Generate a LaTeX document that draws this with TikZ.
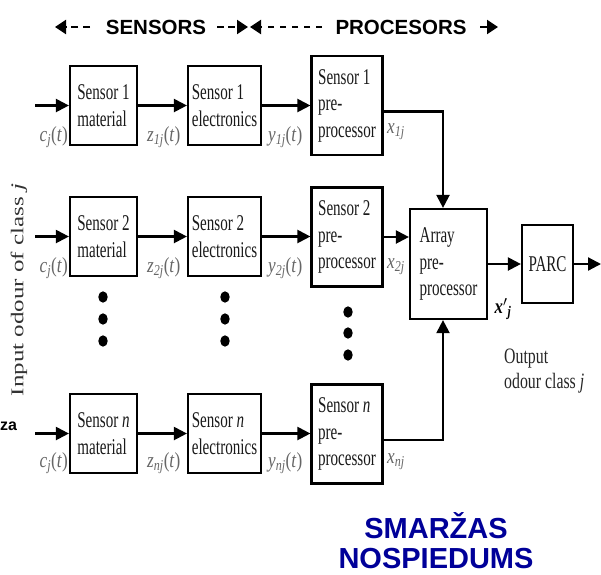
\documentclass[tikz,border=0pt]{standalone}
\usepackage{fontspec}
\setmainfont{Liberation Serif}
\newfontfamily\hdrfont{Liberation Sans}
\newfontfamily\boxfont[FakeStretch=0.67]{Liberation Serif}
\newfontfamily\lblfont[FakeStretch=0.8]{Liberation Serif}
\newfontfamily\outfont[FakeStretch=0.72]{Liberation Serif}
\newfontfamily\sidefont[FakeStretch=1.39]{Liberation Serif}
\usetikzlibrary{arrows.meta}

% signal label such as c_j(t)
\newcommand\sgl[2]{\textit{#1}\textsubscript{\textit{#2}}(\textit{t})}
\newcommand\vecx[1]{\textit{x}\textsubscript{\textit{#1}}}

\begin{document}
\begin{tikzpicture}[x=1pt,y=-1pt,
  blk/.style={draw, line width=2.2pt, align=left, inner sep=0pt,
    font=\boxfont\fontsize{22.5}{26.5}\selectfont, text=black!90},
  matbox/.style={blk, minimum width=67pt, minimum height=79pt},
  elebox/.style={blk, minimum width=73pt, minimum height=79pt},
  prebox/.style={blk, minimum width=71pt, minimum height=99pt},
  flow/.style={line width=2.2pt, -{Triangle[length=13pt,width=13pt]}},
  lbl/.style={font=\lblfont\fontsize{21.5}{22}\selectfont, text=black!60, inner sep=0pt},
  hdrtxt/.style={font=\hdrfont\bfseries\fontsize{20.5}{24}\selectfont, inner sep=0pt},
  hdash/.style={line width=2pt, dash pattern=on 7pt off 5pt, -{Triangle[length=11pt,width=14pt]}},
  dot/.style={fill=black, draw=none},
  titletxt/.style={font=\hdrfont\bfseries\fontsize{29}{30}\selectfont, text=blue!60!black, align=center, inner sep=0pt}
]
\useasboundingbox (0,0) rectangle (601,574);

% header with section ranges
\node[hdrtxt] (sens) at (156,27) {SENSORS};
\node[hdrtxt] (proc) at (401,27) {PROCESORS};
\coordinate (ha1) at (90,27);  \coordinate (hb1) at (55,27);
\coordinate (ha2) at (217,27); \coordinate (hb2) at (248,27);
\coordinate (ha3) at (322,27); \coordinate (hb3) at (250,27);
\coordinate (ha4) at (480,27); \coordinate (hb4) at (498,27);
\draw[hdash] (ha1) -- (hb1);
\draw[hdash, dash pattern=on 7pt off 4pt] (ha2) -- (hb2);
\draw[hdash, dash pattern=on 6pt off 6pt] (ha3) -- (hb3);
\draw[hdash] (ha4) -- (hb4);

% sensor rows
\node[matbox] (mat1) at (103.5,105.5) {Sensor 1\\material};
\node[elebox] (ele1) at (224.5,105.5) {Sensor 1\\electronics};
\node[prebox] (pre1) at (347,105.5) {Sensor 1\\pre-\\processor};

\node[matbox] (mat2) at (103.5,236.5) {Sensor 2\\material};
\node[elebox] (ele2) at (224.5,236.5) {Sensor 2\\electronics};
\node[prebox] (pre2) at (347,237) {Sensor 2\\pre-\\processor};

\node[matbox] (matn) at (103.5,433.5) {Sensor \textit{n}\\material};
\node[elebox] (elen) at (224.5,433.5) {Sensor \textit{n}\\electronics};
\node[prebox] (pren) at (347,434) {Sensor \textit{n}\\pre-\\processor};

% array stage and classifier
\node[blk, minimum width=77pt, minimum height=110pt] (arr) at (448.5,264) {Array\\pre-\\processor};
\node[blk, minimum width=51pt, minimum height=78pt] (parc) at (547.5,264) {PARC};

% inputs and output ends
\coordinate (in1) at (35,105.5);
\coordinate (in2) at (35,236.5);
\coordinate (inn) at (35,433.5);
\coordinate (vx) at (443,0);
\coordinate (out) at (601,264);

\draw[flow] (in1) -- (mat1);
\draw[flow] (mat1) -- (ele1);
\draw[flow] (ele1) -- (pre1.west |- ele1);
\draw[flow] (in2) -- (mat2);
\draw[flow] (mat2) -- (ele2);
\draw[flow] (ele2) -- (pre2.west |- ele2);
\draw[flow] (inn) -- (matn);
\draw[flow] (matn) -- (elen);
\draw[flow] (elen) -- (pren.west |- elen);

\draw[flow] ([yshift=-6pt]pre1.east) -| (vx |- arr.north);
\draw[flow] (pre2.east) -- (pre2.east -| arr.west);
\draw[flow] ([yshift=-6pt]pren.east) -| (vx |- arr.south);
\draw[flow] (arr) -- (parc);
\draw[flow] (parc) -- (out);

% signal labels
\node[lbl, anchor=east] (c1) at (68,137) {\sgl{c}{j}};
\node[lbl, anchor=west] (z1) at (147,137) {\sgl{z}{1j}};
\node[lbl, anchor=west] (y1) at (268,137) {\sgl{y}{1j}};
\node[lbl, anchor=west] (x1) at (387,132) {\vecx{1j}};

\node[lbl, anchor=east] (c2) at (68,268) {\sgl{c}{j}};
\node[lbl, anchor=west] (z2) at (147,268) {\sgl{z}{2j}};
\node[lbl, anchor=west] (y2) at (268,268) {\sgl{y}{2j}};
\node[lbl, anchor=west] (x2) at (387,267) {\vecx{2j}};

\node[lbl, anchor=east] (cn) at (68,463) {\sgl{c}{j}};
\node[lbl, anchor=west] (zn) at (147,463) {\sgl{z}{nj}};
\node[lbl, anchor=west] (yn) at (268,463) {\sgl{y}{nj}};
\node[lbl, anchor=west] (xn) at (387,462) {\vecx{nj}};

\node[font=\lblfont\fontsize{21}{22}\selectfont\bfseries, inner sep=0pt] (xp) at (503,309) {\textit{x}$'$\textsubscript{\textit{j}}};
\node[font=\outfont\fontsize{22}{25}\selectfont, text=black!85, align=left, anchor=north west, inner sep=0pt] (outlbl) at (504,349) {Output\\odour class \textit{j}};

% ellipsis dots between rows
\foreach \cx/\cy in {103/297, 103/319, 103/341, 225/297, 225/319, 225/341, 348/312, 348/333, 348/355}
  \fill[dot] (\cx,\cy) ellipse [x radius=4.7pt, y radius=5.7pt];

% side caption
\node[rotate=90, font=\sidefont\fontsize{18}{20}\selectfont, text=black!80, inner sep=0pt] (side) at (19,290) {Input odour of class \textit{j}};
\node[font=\hdrfont\bfseries\fontsize{16}{18}\selectfont, anchor=west, inner sep=0pt] (frag) at (0,426) {za};

% overlay title
\node[titletxt] (title) at (436,541) {SMARŽAS\\NOSPIEDUMS};
\end{tikzpicture}
\end{document}
